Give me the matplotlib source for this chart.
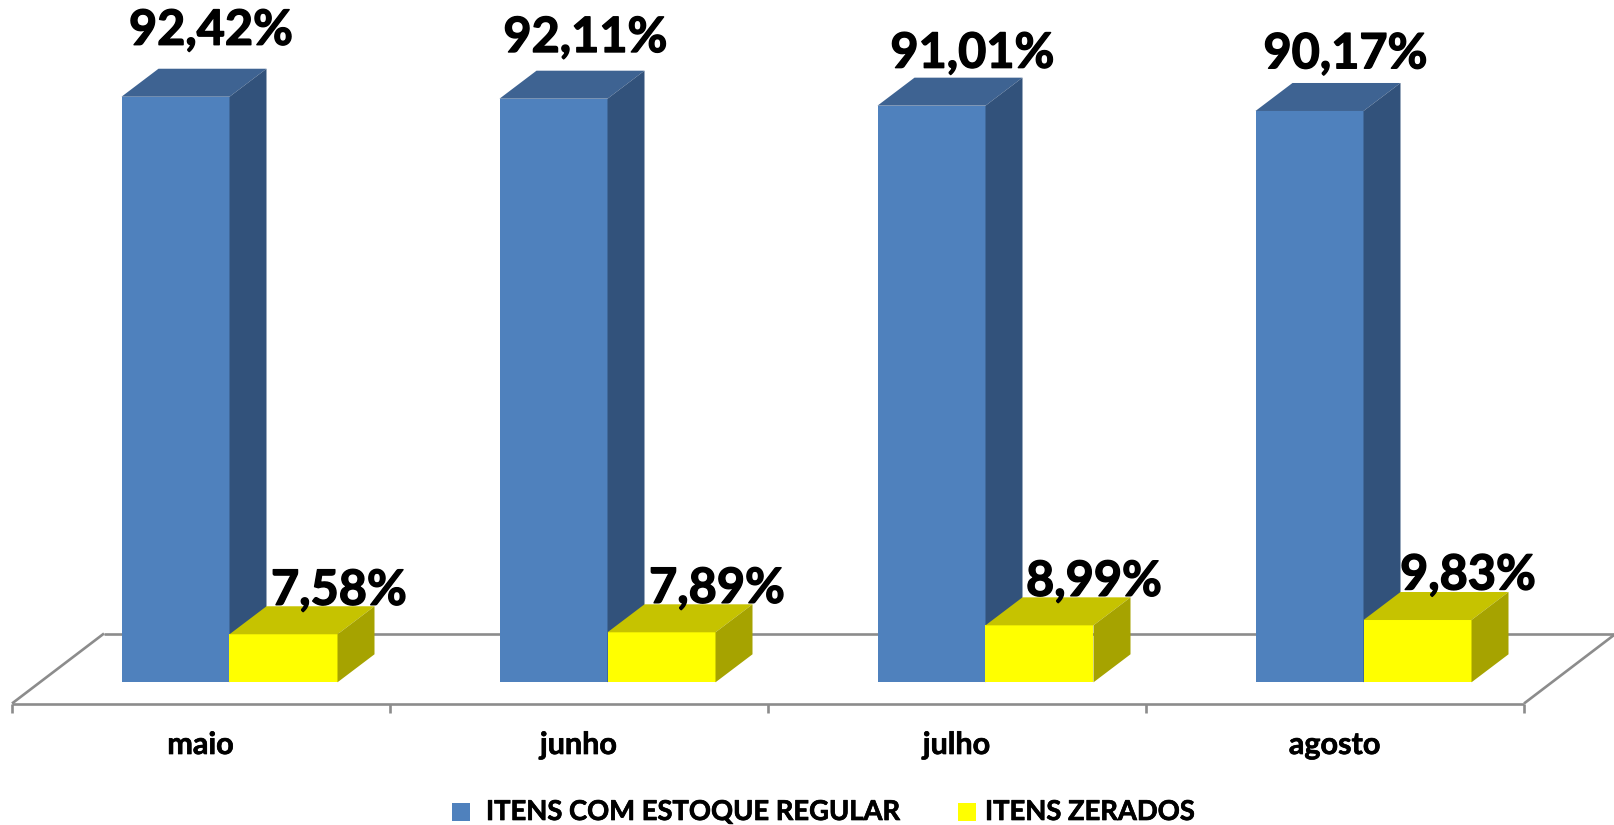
#!/usr/bin/env python3
# -*- coding: utf-8 -*-
"""
Estoque regular x itens zerados - 3D look bars
"""

import matplotlib
matplotlib.use("Agg")
import matplotlib.pyplot as plt
import matplotlib.patheffects as pe
from matplotlib.patches import Polygon, Rectangle

# ── DATA ──────────────────────────────────────────────────────────────────
months = ["maio", "junho", "julho", "agosto"]
regular = [92.42, 92.11, 91.01, 90.17]
zerados = [7.58, 7.89, 8.99, 9.83]
series_names = ["ITENS COM ESTOQUE REGULAR", "ITENS ZERADOS"]

# ── STYLE ─────────────────────────────────────────────────────────────────
plt.rcParams["font.family"] = ["Lato", "DejaVu Sans"]

BLUE = ("#4F81BD", "#3E6392", "#32527B")    # front, top, side
YELLOW = ("#FFFF00", "#C6C300", "#A6A300")
AXIS = "#8C8C8C"

# scale: one category = 378 px, one percent = 6.336 px
PX_X = 378.0
PX_Y = 6.336
W, H = 1614, 825
X0, Y0 = 12.0, 682.3     # pixel of x=0 and y=0

bar_w = 108.0 / PX_X
bar_left = 109.5 / PX_X
depth_x, depth_y = 37.0 / PX_X, 28.0 / PX_Y
floor_x, floor_y = 92.0 / PX_X, 70.0 / PX_Y
floor_front = -21.2 / PX_Y

# label offsets from the bar's centre (px) and above the back top edge (px)
reg_dx = [35.5, 32, 41, 36]
reg_dy = [24, 18.7, 10, 14.7]
zer_dx = [55.5, 55.5, 54.5, 50.5]
zer_dy = [1.5, 1.5, 1.5, 2.5]

# thickens Lato a little, the original is a heavier bold
heavy = [pe.withStroke(linewidth=1.0, foreground="black")]
light = [pe.withStroke(linewidth=0.5, foreground="black")]

fig = plt.figure(figsize=(W / 100, H / 100), dpi=100)
ax = fig.add_axes([0, 0, 1, 1])
ax.set_xlim(-X0 / PX_X, (W - X0) / PX_X)
ax.set_ylim((Y0 - H) / PX_Y, Y0 / PX_Y)
ax.axis("off")


def px(x, y):
    # pixel of the picture -> data coords
    return (x - X0) / PX_X, (Y0 - y) / PX_Y


def box(x, v, colors):
    ax.add_patch(Rectangle((x, 0), bar_w, v, fc=colors[0], ec="none", zorder=3))
    ax.add_patch(Polygon([(x, v), (x + bar_w, v),
                          (x + bar_w + depth_x, v + depth_y), (x + depth_x, v + depth_y)],
                         fc=colors[1], ec="none", zorder=3))
    ax.add_patch(Polygon([(x + bar_w, 0), (x + bar_w + depth_x, depth_y),
                          (x + bar_w + depth_x, v + depth_y), (x + bar_w, v)],
                         fc=colors[2], ec="none", zorder=3))


# ── FLOOR ─────────────────────────────────────────────────────────────────
n = len(months)
back = floor_front + floor_y
line = dict(color=AXIS, lw=1.9, solid_capstyle="butt", zorder=1)
ax.plot([0, n], [floor_front, floor_front], **line)
ax.plot([floor_x, n + floor_x], [back, back], **line)
ax.plot([0, floor_x], [floor_front, back], **line)
ax.plot([n, n + floor_x], [floor_front, back], **line)
for i in range(n + 1):
    ax.plot([i, i], [floor_front, floor_front - 9 / PX_Y], **line)

# ── BARS ──────────────────────────────────────────────────────────────────
for i in range(n):
    x = i + bar_left
    box(x, regular[i], BLUE)
    box(x + bar_w, zerados[i], YELLOW)

# ── LABELS ────────────────────────────────────────────────────────────────
for i in range(n):
    x = i + bar_left
    ax.text(x + bar_w / 2 + reg_dx[i] / PX_X, regular[i] + depth_y + reg_dy[i] / PX_Y,
            f"{regular[i]:.2f}%".replace(".", ","), ha="center", va="baseline",
            fontsize=35, fontweight="bold", color="black", zorder=5, path_effects=heavy)
    ax.text(x + 1.5 * bar_w + zer_dx[i] / PX_X, zerados[i] + depth_y + zer_dy[i] / PX_Y,
            f"{zerados[i]:.2f}%".replace(".", ","), ha="center", va="baseline",
            fontsize=35, fontweight="bold", color="black", zorder=5, path_effects=heavy)
    ax.text(x + bar_w - 29 / PX_X, px(0, 754)[1], months[i], ha="center", va="baseline",
            fontsize=22, fontweight="bold", color="black", path_effects=light)

# ── LEGEND ────────────────────────────────────────────────────────────────
# spacing in the original differs between the two entries, so placed by hand
key_x = [452, 958]
text_x = [486, 985]
key_colors = [BLUE[0], YELLOW[0]]
for name, kx, tx, col in zip(series_names, key_x, text_x, key_colors):
    ax.add_patch(Rectangle(px(kx, 820.5), 18 / PX_X, 17.5 / PX_Y, fc=col, ec="none"))
    ax.text(*px(tx, 820), name, ha="left", va="baseline",
            fontsize=19.7, fontweight="bold", color="black", path_effects=light)

fig.savefig("out.png", dpi=100, facecolor="white")
